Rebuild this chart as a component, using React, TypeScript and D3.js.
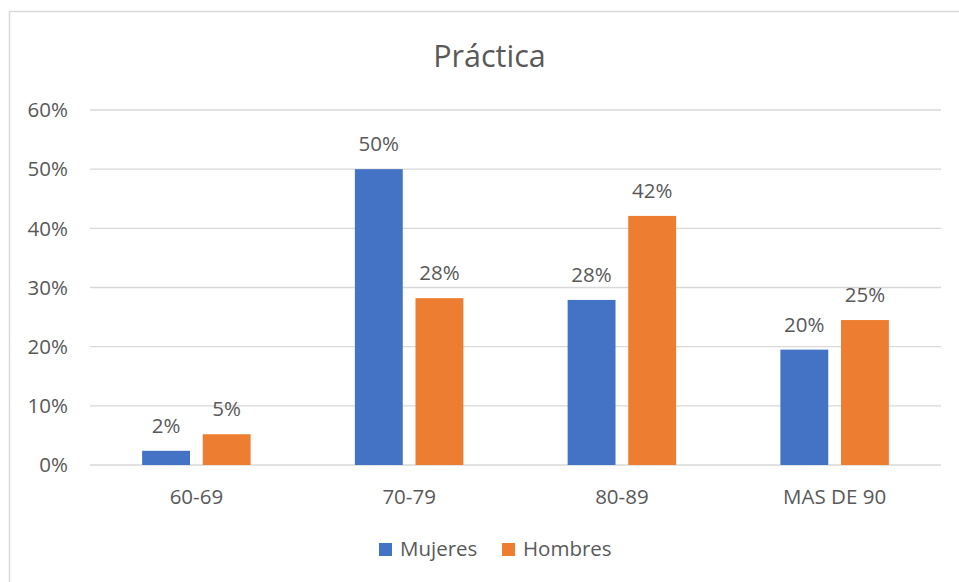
import React from "react";
import * as d3 from "d3";

const categories = ["60-69", "70-79", "80-89", "MAS DE 90"];
const seriesNames = ["Mujeres", "Hombres"];
const mujeres = [0.024, 0.5, 0.279, 0.195];
const hombres = [0.052, 0.282, 0.421, 0.245];
const valueLabels = [
  ["2%", "50%", "28%", "20%"],
  ["5%", "28%", "42%", "25%"],
];
const yTicks = [0, 0.1, 0.2, 0.3, 0.4, 0.5, 0.6];
const colors = ["#4472c4", "#ed7d31"];

const width = 959;
const height = 582;
const font = "'Segoe UI', 'Open Sans', sans-serif";
const textColor = "#595959";
const labelSize = 20.5;

export default function App() {
  const values = [mujeres, hombres];

  const x0 = d3
    .scaleBand<string>()
    .domain(categories)
    .range([90, 941])
    .paddingInner(0.49)
    .paddingOuter(0.245);

  const x1 = d3
    .scaleBand<string>()
    .domain(seriesNames)
    .range([0, x0.bandwidth()])
    .paddingInner(0.21);

  const y = d3.scaleLinear().domain([0, 0.6]).range([465, 110]);
  const fmt = d3.format(".0%");

  return (
    <svg
      width={width}
      height={height}
      style={{ position: "fixed", left: 0, top: 0, background: "#fff" }}
      fontFamily={font}
    >
      <rect x={0} y={0} width={width} height={height} fill="#fff" />
      <rect
        x={9.5}
        y={11.5}
        width={width + 10}
        height={height + 10}
        fill="none"
        stroke="#d9d9d9"
        strokeWidth={1.5}
      />

      <text
        x={489.5}
        y={67}
        textAnchor="middle"
        fontSize={30.5}
        fill={textColor}
      >
        Práctica
      </text>

      {/* gridlines and y labels */}
      {yTicks.map((t) => (
        <g key={t}>
          <line
            x1={90}
            x2={941}
            y1={y(t)}
            y2={y(t)}
            stroke="#d9d9d9"
            strokeWidth={1.3}
          />
          <text
            x={68}
            y={y(t)}
            dy="0.35em"
            textAnchor="end"
            fontSize={labelSize}
            fill={textColor}
          >
            {fmt(t)}
          </text>
        </g>
      ))}

      {/* bars */}
      {seriesNames.map((s, si) => (
        <g key={s}>
          {categories.map((c, ci) => {
            const v = values[si][ci];
            const bx = (x0(c) ?? 0) + (x1(s) ?? 0);
            return (
              <g key={c}>
                <rect
                  x={bx}
                  y={y(v)}
                  width={x1.bandwidth()}
                  height={y(0) - y(v)}
                  fill={colors[si]}
                />
                <text
                  x={bx + x1.bandwidth() / 2}
                  y={y(v) - 18}
                  textAnchor="middle"
                  fontSize={labelSize}
                  fill={textColor}
                >
                  {valueLabels[si][ci]}
                </text>
              </g>
            );
          })}
        </g>
      ))}

      {/* x labels */}
      {categories.map((c) => (
        <text
          key={c}
          x={(x0(c) ?? 0) + x0.bandwidth() / 2}
          y={504}
          textAnchor="middle"
          fontSize={labelSize}
          fill={textColor}
        >
          {c}
        </text>
      ))}

      {/* legend */}
      {seriesNames.map((s, si) => {
        const lx = si === 0 ? 379 : 502;
        return (
          <g key={s}>
            <rect x={lx} y={543} width={13} height={13} fill={colors[si]} />
            <text x={lx + 21} y={556} fontSize={labelSize} fill={textColor}>
              {s}
            </text>
          </g>
        );
      })}
    </svg>
  );
}
